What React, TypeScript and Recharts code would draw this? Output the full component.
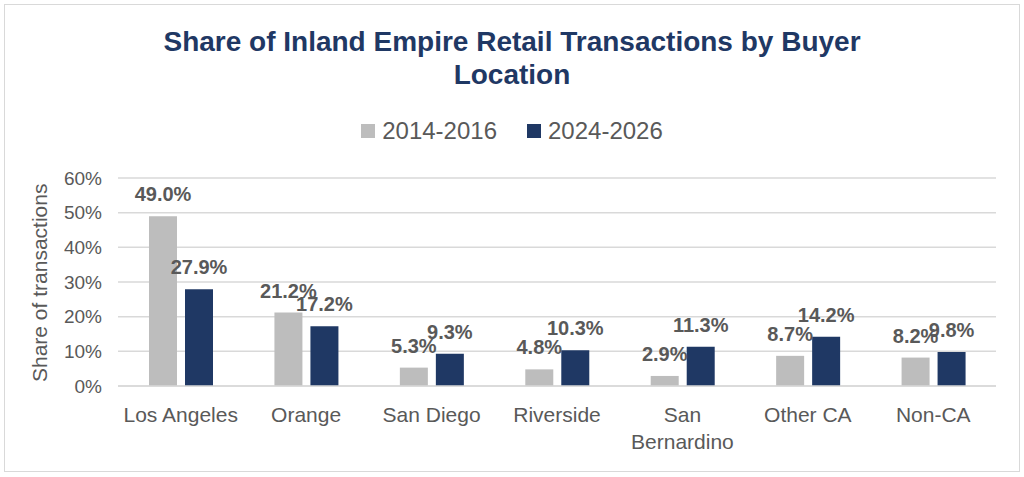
import { Bar, BarChart, CartesianGrid, LabelList, XAxis, YAxis } from "recharts";

const locations = ["Los Angeles", "Orange", "San Diego", "Riverside", "San Bernardino", "Other CA", "Non-CA"];
const share2014 = [49.0, 21.2, 5.3, 4.8, 2.9, 8.7, 8.2];
const share2024 = [27.9, 17.2, 9.3, 10.3, 11.3, 14.2, 9.8];
const yTicks = [0, 10, 20, 30, 40, 50, 60];

const GRAY = "#BDBDBD";
const NAVY = "#1F3864";
const TEXT = "#595959";
const FONT = "'Liberation Sans', Arial, sans-serif";

const data = locations.map((name, i) => ({
  name,
  early: share2014[i],
  late: share2024[i],
}));

function CategoryTick({ x, y, payload }: any) {
  const label: string = payload.value;
  const lines = label.length > 12 ? label.split(" ") : [label];
  return (
    <text x={x} y={y} textAnchor="middle" fill={TEXT} fontSize={21} fontFamily={FONT}>
      {lines.map((line, i) => (
        <tspan key={line} x={x} dy={i === 0 ? "0.71em" : 27}>
          {line}
        </tspan>
      ))}
    </text>
  );
}

function ChartLegend() {
  const items = [
    { label: "2014-2016", color: GRAY },
    { label: "2024-2026", color: NAVY },
  ];
  return (
    <div
      style={{
        position: "absolute",
        top: 112,
        left: 0,
        width: 1014,
        display: "flex",
        justifyContent: "center",
        gap: 30,
        fontFamily: FONT,
        fontSize: 24,
        color: TEXT,
      }}
    >
      {items.map((it) => (
        <div key={it.label} style={{ display: "flex", alignItems: "center", gap: 7 }}>
          <span style={{ width: 14, height: 14, background: it.color, display: "inline-block" }} />
          <span>{it.label}</span>
        </div>
      ))}
    </div>
  );
}

const labelStyle = { fill: TEXT, fontSize: 20, fontWeight: 700, fontFamily: FONT };

export default function App() {
  return (
    <div
      style={{
        position: "absolute",
        left: 4,
        top: 4,
        width: 1014,
        height: 466,
        border: "1px solid #D9D9D9",
        background: "#fff",
      }}
    >
      <div
        style={{
          position: "absolute",
          top: 20,
          left: 0,
          width: 1014,
          textAlign: "center",
          fontFamily: FONT,
          fontWeight: 700,
          fontSize: 28,
          lineHeight: "33px",
          color: NAVY,
        }}
      >
        Share of Inland Empire Retail Transactions by Buyer
        <br />
        Location
      </div>
      <ChartLegend />
      <BarChart
        width={1014}
        height={466}
        data={data}
        margin={{ top: 173, right: 23, bottom: 0, left: 0 }}
        barCategoryGap={30}
        barGap={8}
      >
        <CartesianGrid vertical={false} stroke="#D9D9D9" strokeWidth={1.5} />
        <XAxis
          dataKey="name"
          tickLine={false}
          axisLine={{ stroke: "#D9D9D9", strokeWidth: 1.5 }}
          tickSize={0}
          tickMargin={21}
          height={85}
          interval={0}
          tick={<CategoryTick />}
        />
        <YAxis
          width={113}
          domain={[0, 60]}
          ticks={yTicks}
          tickFormatter={(v: number) => `${v}%`}
          axisLine={false}
          tickLine={false}
          tickSize={0}
          tickMargin={16}
          tick={{ fill: TEXT, fontSize: 19, fontFamily: FONT }}
          label={{
            value: "Share of transactions",
            angle: -90,
            position: "insideLeft",
            dx: 30,
            dy: 100,
            fill: TEXT,
            fontSize: 21,
            fontFamily: FONT,
          }}
        />
        <Bar dataKey="early" name="2014-2016" fill={GRAY} barSize={28} isAnimationActive={false}>
          <LabelList
            dataKey="early"
            position="top"
            offset={15}
            formatter={(v: any) => `${Number(v).toFixed(1)}%`}
            style={labelStyle}
          />
        </Bar>
        <Bar dataKey="late" name="2024-2026" fill={NAVY} barSize={28} isAnimationActive={false}>
          <LabelList
            dataKey="late"
            position="top"
            offset={15}
            formatter={(v: any) => `${Number(v).toFixed(1)}%`}
            style={labelStyle}
          />
        </Bar>
      </BarChart>
    </div>
  );
}
